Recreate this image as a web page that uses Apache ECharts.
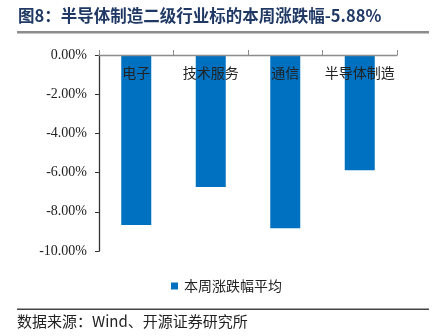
<!DOCTYPE html>
<html>
<head>
<meta charset="utf-8">
<script src="https://cdn.jsdelivr.net/npm/echarts@6/dist/echarts.min.js"></script>
<style>
  html, body { margin: 0; padding: 0; background: #fff; }
  #chart { width: 438px; height: 336px; }
</style>
</head>
<body>
<div id="chart"></div>
<script>
// Weekly change by semiconductor sub-industry (%)
const categories = ['电子', '技术服务', '通信', '半导体制造'];
const weeklyChange = [-8.67, -6.73, -8.84, -5.88];
const seriesName = '本周涨跌幅平均';
const titleText = '图8：半导体制造二级行业标的本周涨跌幅-5.88%';
const sourceText = '数据来源：Wind、开源证券研究所';
const yMin = -10, yMax = 0, yStep = 2;

const chart = echarts.init(document.getElementById('chart'));
chart.setOption({
  animation: false,
  backgroundColor: '#fff',
  grid: { left: 99, right: 41, top: 55, bottom: 85, containLabel: false },
  legend: {
    data: [seriesName],
    left: 166, top: 274,
    icon: 'rect', itemWidth: 7, itemHeight: 7, itemGap: 10,
    textStyle: { fontFamily: 'Noto Sans CJK SC', fontSize: 14, color: '#222', padding: [0, 0, 0, 1] }
  },
  xAxis: {
    type: 'category',
    data: categories,
    position: 'top',
    axisLine: { lineStyle: { color: '#8c8c8c', width: 1.3 } },
    axisTick: { show: true, inside: false, length: 5, lineStyle: { color: '#8c8c8c' } },
    axisLabel: {
      inside: true, interval: 0, margin: 11,
      fontFamily: 'Noto Sans CJK SC', fontSize: 14, color: '#222'
    },
    splitLine: { show: false },
    z: 5
  },
  yAxis: {
    type: 'value',
    min: yMin, max: yMax, interval: yStep,
    axisLine: { show: true, lineStyle: { color: '#333', width: 1.3 } },
    axisTick: { show: true, length: 4, lineStyle: { color: '#333' } },
    axisLabel: {
      margin: 12,
      fontFamily: 'Liberation Serif', fontSize: 14, color: '#222',
      formatter: v => v.toFixed(2) + '%'
    },
    splitLine: { show: false }
  },
  series: [{
    name: seriesName,
    type: 'bar',
    data: weeklyChange,
    barWidth: 30,
    itemStyle: { color: '#0070C0' }
  }],
  graphic: [
    {
      type: 'text', left: 18, top: 7,
      style: { text: titleText, font: 'bold 16.5px "Noto Sans CJK SC"', fill: '#1F3864' }
    },
    {
      type: 'rect', shape: { x: 17, y: 31, width: 412, height: 2.5 },
      style: { fill: '#8c8c8c' }
    },
    {
      type: 'rect', shape: { x: 17, y: 308.5, width: 412, height: 1.5 },
      style: { fill: '#444' }
    },
    {
      type: 'text', left: 17, top: 314,
      style: { text: sourceText, font: '15px "Noto Sans CJK SC"', fill: '#222' }
    }
  ]
});
</script>
</body>
</html>
